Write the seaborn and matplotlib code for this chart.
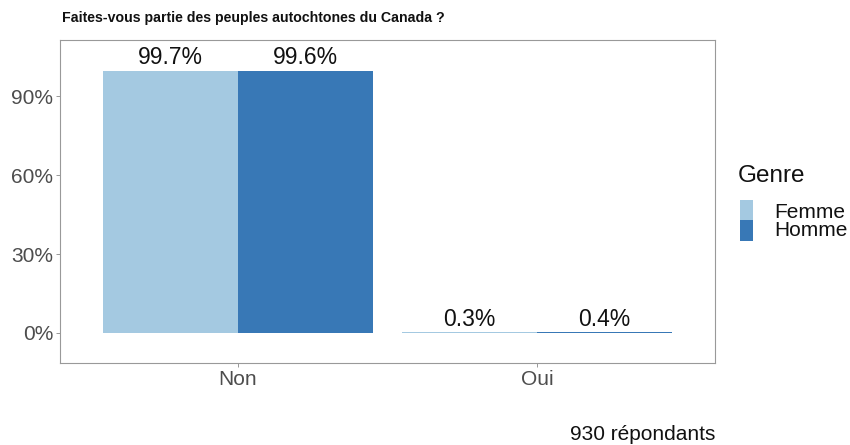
import matplotlib
matplotlib.use("Agg")
import matplotlib.pyplot as plt
import seaborn as sns
import pandas as pd
from matplotlib.patches import Rectangle

# Survey answers, share of respondents by gender (%)
reponses = ["Non", "Oui"]
femme = [99.7, 0.3]
homme = [99.6, 0.4]
genres = ["Femme", "Homme"]
couleurs = {"Femme": "#a4c9e1", "Homme": "#3878b6"}

df = pd.DataFrame({
    "reponse": reponses * 2,
    "pct": femme + homme,
    "genre": [genres[0]] * len(reponses) + [genres[1]] * len(reponses),
})

sns.set_theme(style="white")
plt.rcParams["font.family"] = ["Liberation Sans", "DejaVu Sans"]

W, H = 850, 445
fig = plt.figure(figsize=(W / 100, H / 100), dpi=100)
ax = fig.add_axes([60 / W, 1 - 363 / H, 655 / W, 323 / H])

sns.barplot(data=df, x="reponse", y="pct", hue="genre", order=reponses,
            hue_order=genres, palette=couleurs, width=0.9, saturation=1,
            edgecolor="none", legend=False, ax=ax)

for cont in ax.containers:
    ax.bar_label(cont, labels=[f"{v:.1f}%" for v in cont.datavalues],
                 padding=1, fontsize=16.5, color="#111111")

ax.set_xlim(-0.595, 1.595)
ax.set_ylim(-11.4, 111.3)
ax.set_yticks([0, 30, 60, 90])
ax.set_yticklabels(["0%", "30%", "60%", "90%"])
ax.set_xlabel("")
ax.set_ylabel("")
ax.tick_params(axis="both", labelsize=15, labelcolor="#4d4d4d", length=3,
               width=0.6, color="#888888", pad=2, left=True, bottom=True)
for s in ax.spines.values():
    s.set_color("#999999")
    s.set_linewidth(0.8)
ax.grid(False)

fig.text(62 / W, 1 - 18 / H, "Faites-vous partie des peuples autochtones du Canada ?",
         fontsize=10.2, fontweight="bold", ha="left", va="center", color="#111111")

# Legend: title, colour keys and labels
fig.text(738 / W, 1 - 176 / H, "Genre", fontsize=17.5, ha="left",
         va="center", color="#111111")
key_top = 200
key_h = 20.5
label_y = [213, 231]
for i, g in enumerate(genres):
    y0 = key_top + i * key_h
    fig.patches.append(Rectangle((740 / W, 1 - (y0 + key_h) / H), 13 / W,
                                 key_h / H, transform=fig.transFigure,
                                 facecolor=couleurs[g], edgecolor="none"))
    fig.text(774 / W, 1 - label_y[i] / H, g, fontsize=15, ha="left",
             va="center", color="#111111")

fig.text(715 / W, 1 - 435 / H, "930 répondants", fontsize=15,
         ha="right", va="center", color="#111111")

fig.savefig("out.png", dpi=100, facecolor="white")
